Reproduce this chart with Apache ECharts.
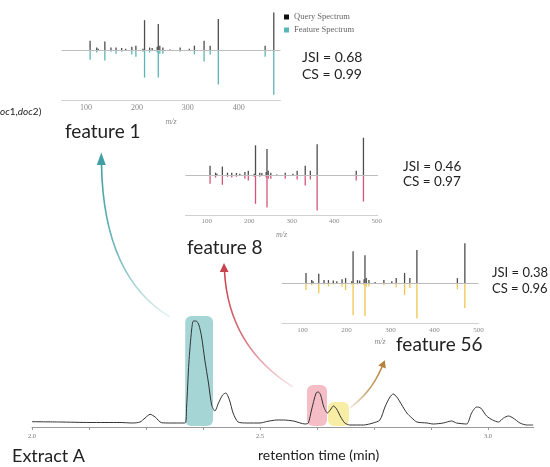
<!DOCTYPE html>
<html>
<head>
<meta charset="utf-8">
<script src="https://cdn.jsdelivr.net/npm/echarts@6/dist/echarts.min.js"></script>
<style>
  html, body { margin: 0; padding: 0; background: #ffffff; }
  #chart { width: 550px; height: 467px; }
</style>
</head>
<body>
<div id="chart"></div>
<script>
// ---------- DATA ----------
// m/z positions of the fragment peaks (shared query spectrum)
const mzValues       = [108, 121, 124, 137, 149, 159, 170, 178, 190, 198, 212, 215, 225, 230, 240, 242, 245, 251, 265, 285, 303, 313, 332, 344, 360, 452, 469];
const queryIntensity = [ 26,   8,   5,  24,   8,   8,   7,   5,  10,  13,   5,  80,   8,   7,  10,  70,  13,   8,   3,   8,   5,  13,  26,  13,  83,  13, 100];
const feature1Intensity  = [24, 5, 0, 26, 3, 8, 3, 0, 10, 16, 3, 71, 5, 0, 5, 71, 8, 8, 0, 3, 0, 10, 29, 10, 89, 16, 116];
const feature8Intensity  = [21, 5, 0, 24, 3, 5, 3, 0,  8, 13, 3, 74, 3, 0, 5, 84, 8, 8, 0, 8, 0, 10, 26, 10, 92, 13,  68];
const feature56Intensity = [17, 5, 0, 25, 3, 8, 3, 0,  8, 17, 3, 80, 3, 0, 5, 82, 8, 8, 0, 5, 0, 10, 29, 12, 88, 15,  62];
const mzTickLabels = [100, 200, 300, 400, 500];

// chromatogram (Extract A)
const rtValues = [2.000,2.061,2.127,2.193,2.221,2.237,2.248,2.259,2.270,2.284,2.303,2.336,2.339,2.344,2.350,2.354,2.360,2.366,2.372,2.379,2.387,2.394,2.401,2.409,2.418,2.425,2.433,2.441,2.452,2.471,2.500,2.515,2.537,2.551,2.573,2.599,2.606,2.613,2.623,2.628,2.633,2.640,2.648,2.654,2.661,2.668,2.677,2.686,2.697,2.727,2.748,2.763,2.774,2.785,2.792,2.800,2.811,2.822,2.833,2.844,2.866,2.880,2.902,2.920,2.931,2.953,2.964,2.975,2.984,2.997,3.010,3.023,3.034,3.045,3.055,3.070,3.085,3.099];
const chromIntensity = [5.3,5,4.5,4.5,4,5,9,12.7,10,4.3,4,4,20,64,97,106,106,102,90,67,44,22,16,24,32,34,27,14,5,4,4,5.5,7,7,6,3,4,17,34,35,32,20,14,17,21,18,10,4,2,2,4,7,20,30,33,30,22,14,9,5,4,3,4,6,4,3,14,20,19,11,7,5,9,11,9,4,2,2];
const rtTicks  = [2.0, 2.125, 2.25, 2.375, 2.5, 2.625, 2.75, 2.875, 3.0];
const rtLabels = [2.0, 2.5, 3.0];

// highlighted features: retention window and box height
const featureNames = ['feature 1', 'feature 8', 'feature 56'];
const boxStart = [2.336, 2.603, 2.649];
const boxEnd   = [2.397, 2.647, 2.695];
const boxTop   = [111, 42, 25];
const scores = [['JSI = 0.68', 'CS = 0.99'], ['JSI = 0.46', 'CS = 0.97'], ['JSI = 0.38', 'CS = 0.96']];

// ---------- STYLE / LAYOUT ----------
const QUERY_COLOR = '#4d4d4d';
const featureColors = ['#5ab5b6', '#d5557a', '#f1c44e'];
const boxColors = ['#a6d5d6', '#f5bec6', '#f8eda4'];
const SERIF = '"Liberation Serif", "DejaVu Serif", serif';
const SANS = 'Lato, "Open Sans", sans-serif';

const spectra = [
  { grid: { left: 61.6, top: 8.8, width: 218.8, height: 91.2 }, x: [52, 482], y: [-130, 110], fs: 8, margin: 4, gap: 18, feat: feature1Intensity },
  { grid: { left: 185.4, top: 133.9, width: 192.5, height: 80.9 }, x: [50, 503], y: [-103, 110], fs: 7, margin: 3, gap: 16, feat: feature8Intensity },
  { grid: { left: 281.8, top: 239.3, width: 196.7, height: 84 }, x: [53, 500], y: [-100, 110], fs: 7, margin: 3, gap: 15, feat: feature56Intensity }
];

const grids = [], xAxes = [], yAxes = [], series = [];
spectra.forEach((s, i) => {
  grids.push(s.grid);
  xAxes.push({
    type: 'value', gridIndex: i, min: s.x[0], max: s.x[1],
    name: 'm/z', nameLocation: 'middle', nameGap: s.gap,
    nameTextStyle: { fontFamily: SERIF, fontStyle: 'italic', fontSize: 8, color: '#888' },
    axisLine: { show: true, onZero: false, lineStyle: { color: '#d0d0d0', width: 1 } },
    axisTick: { show: false },
    splitLine: { show: false },
    axisLabel: {
      customValues: mzTickLabels.filter(v => v >= s.x[0] && v <= s.x[1]),
      fontFamily: SERIF, fontSize: s.fs, color: '#8a8a8a', margin: s.margin
    }
  });
  yAxes.push({ type: 'value', gridIndex: i, min: s.y[0], max: s.y[1], show: false, splitLine: { show: false } });
  const suffix = i === 0 ? '' : ' (' + featureNames[i] + ')';
  series.push({
    name: 'Query Spectrum' + suffix, type: 'bar', xAxisIndex: i, yAxisIndex: i,
    barWidth: 1.3, barGap: '-100%', silent: true,
    itemStyle: { color: QUERY_COLOR },
    data: mzValues.map((m, k) => [m, queryIntensity[k]]),
    markLine: {
      silent: true, symbol: ['none', 'none'], label: { show: false },
      lineStyle: { color: '#bdbdbd', width: 1, type: 'solid' },
      data: [{ yAxis: 0 }], animation: false
    }
  });
  series.push({
    name: 'Feature Spectrum' + suffix, type: 'bar', xAxisIndex: i, yAxisIndex: i,
    barWidth: 1.3, barGap: '-100%', silent: true,
    itemStyle: { color: featureColors[i] },
    data: mzValues.map((m, k) => [m, -s.feat[k]])
  });
});

// chromatogram grid
const CG = 3;
grids.push({ left: 32, top: 307, width: 501.6, height: 120 });
xAxes.push({
  type: 'value', gridIndex: CG, min: 2.0, max: 3.1,
  axisLine: { show: true, onZero: false, lineStyle: { color: '#9a9a9a', width: 1 } },
  axisTick: { show: true, customValues: rtTicks, length: 3, lineStyle: { color: '#9a9a9a' } },
  splitLine: { show: false },
  axisLabel: {
    customValues: rtLabels, formatter: v => v.toFixed(1),
    fontFamily: SERIF, fontSize: 6.5, color: '#777', margin: 6
  }
});
yAxes.push({ type: 'value', gridIndex: CG, min: 0, max: 120, show: false, splitLine: { show: false } });

series.push({
  name: 'feature windows', type: 'custom', xAxisIndex: CG, yAxisIndex: CG, silent: true, z: 1,
  data: boxStart.map((s, k) => [s, boxEnd[k], boxTop[k]]),
  renderItem: function (params, api) {
    const p0 = api.coord([api.value(0), api.value(2)]);
    const p1 = api.coord([api.value(1), 1]);
    return {
      type: 'rect',
      shape: { x: p0[0], y: p0[1], width: p1[0] - p0[0], height: p1[1] - p0[1], r: 6 },
      style: { fill: boxColors[params.dataIndex] }
    };
  }
});
series.push({
  name: 'Extract A', type: 'line', xAxisIndex: CG, yAxisIndex: CG, silent: true, z: 3,
  showSymbol: false, smooth: 0.25,
  lineStyle: { color: '#333', width: 1 },
  data: rtValues.map((t, k) => [t, chromIntensity[k]])
});

// ---------- annotations ----------
function arrow(p0, c1, c2, p3, tip, b1, b2, color, grad) {
  return [
    {
      type: 'bezierCurve', silent: true, z: 10,
      shape: { x1: p0[0], y1: p0[1], cpx1: c1[0], cpy1: c1[1], cpx2: c2[0], cpy2: c2[1], x2: p3[0], y2: p3[1] },
      style: {
        fill: null, lineWidth: 1.6,
        stroke: { type: 'linear', x: grad[0], y: grad[1], x2: grad[2], y2: grad[3],
          colorStops: [{ offset: 0, color: color + '18' }, { offset: 0.5, color: color + 'c0' }, { offset: 1, color: color }] }
      }
    },
    { type: 'polygon', silent: true, z: 10, shape: { points: [tip, b1, b2] }, style: { fill: color } }
  ];
}
function txt(x, y, text, size, extra) {
  return {
    type: 'text', x: x, y: y, silent: true, z: 20,
    style: Object.assign({ text: text, font: size + 'px ' + SANS, fill: '#222', align: 'left', verticalAlign: 'middle' }, extra || {})
  };
}

const graphics = [].concat(
  arrow([170, 317], [125, 290], [103, 240], [101.5, 165], [101.3, 152.5], [96.8, 165], [105.8, 165], '#3f9fa3', [1, 1, 0, 0]),
  arrow([293, 387], [250, 360], [227, 320], [224.5, 271], [224, 263], [219.8, 272], [228.6, 272], '#c9434f', [1, 1, 0, 0]),
  arrow([350, 408], [360, 400], [372, 390], [382, 367], [384.8, 360.3], [378.3, 365.5], [385.8, 368.6], '#b5823c', [0, 1, 1, 0]),
  [
    txt(65, 132, featureNames[0], 19),
    txt(187, 248, featureNames[1], 19),
    txt(396, 345, featureNames[2], 19),
    txt(12, 456, 'Extract A', 18),
    txt(258, 455, 'retention time (min)', 14),
    txt(302, 57, scores[0][0], 14), txt(302, 74, scores[0][1], 14),
    txt(403, 166.5, scores[1][0], 13.5), txt(403, 182, scores[1][1], 13.5),
    txt(492, 272.5, scores[2][0], 13), txt(492, 289, scores[2][1], 13),
    {
      type: 'text', x: 0, y: 111.5, silent: true, z: 20,
      style: {
        text: '{i|oc}1,{i|doc}2)', font: '10px ' + SANS, fill: '#222', verticalAlign: 'middle',
        rich: { i: { fontStyle: 'italic', fontSize: 10, fontFamily: 'Lato' } }
      }
    }
  ]
);

const chart = echarts.init(document.getElementById('chart'), null, { renderer: 'canvas' });
chart.setOption({
  animation: false,
  backgroundColor: '#ffffff',
  grid: grids,
  xAxis: xAxes,
  yAxis: yAxes,
  legend: {
    data: [
      { name: 'Query Spectrum', itemStyle: { color: '#111' } },
      { name: 'Feature Spectrum', itemStyle: { color: featureColors[0] } }
    ],
    orient: 'vertical', left: 284, top: 12, padding: 0,
    icon: 'rect', itemWidth: 5, itemHeight: 5, itemGap: 3,
    selectedMode: false,
    textStyle: { fontFamily: SERIF, fontSize: 8.5, color: '#666', lineHeight: 10 }
  },
  series: series,
  graphic: graphics
});
</script>
</body>
</html>
